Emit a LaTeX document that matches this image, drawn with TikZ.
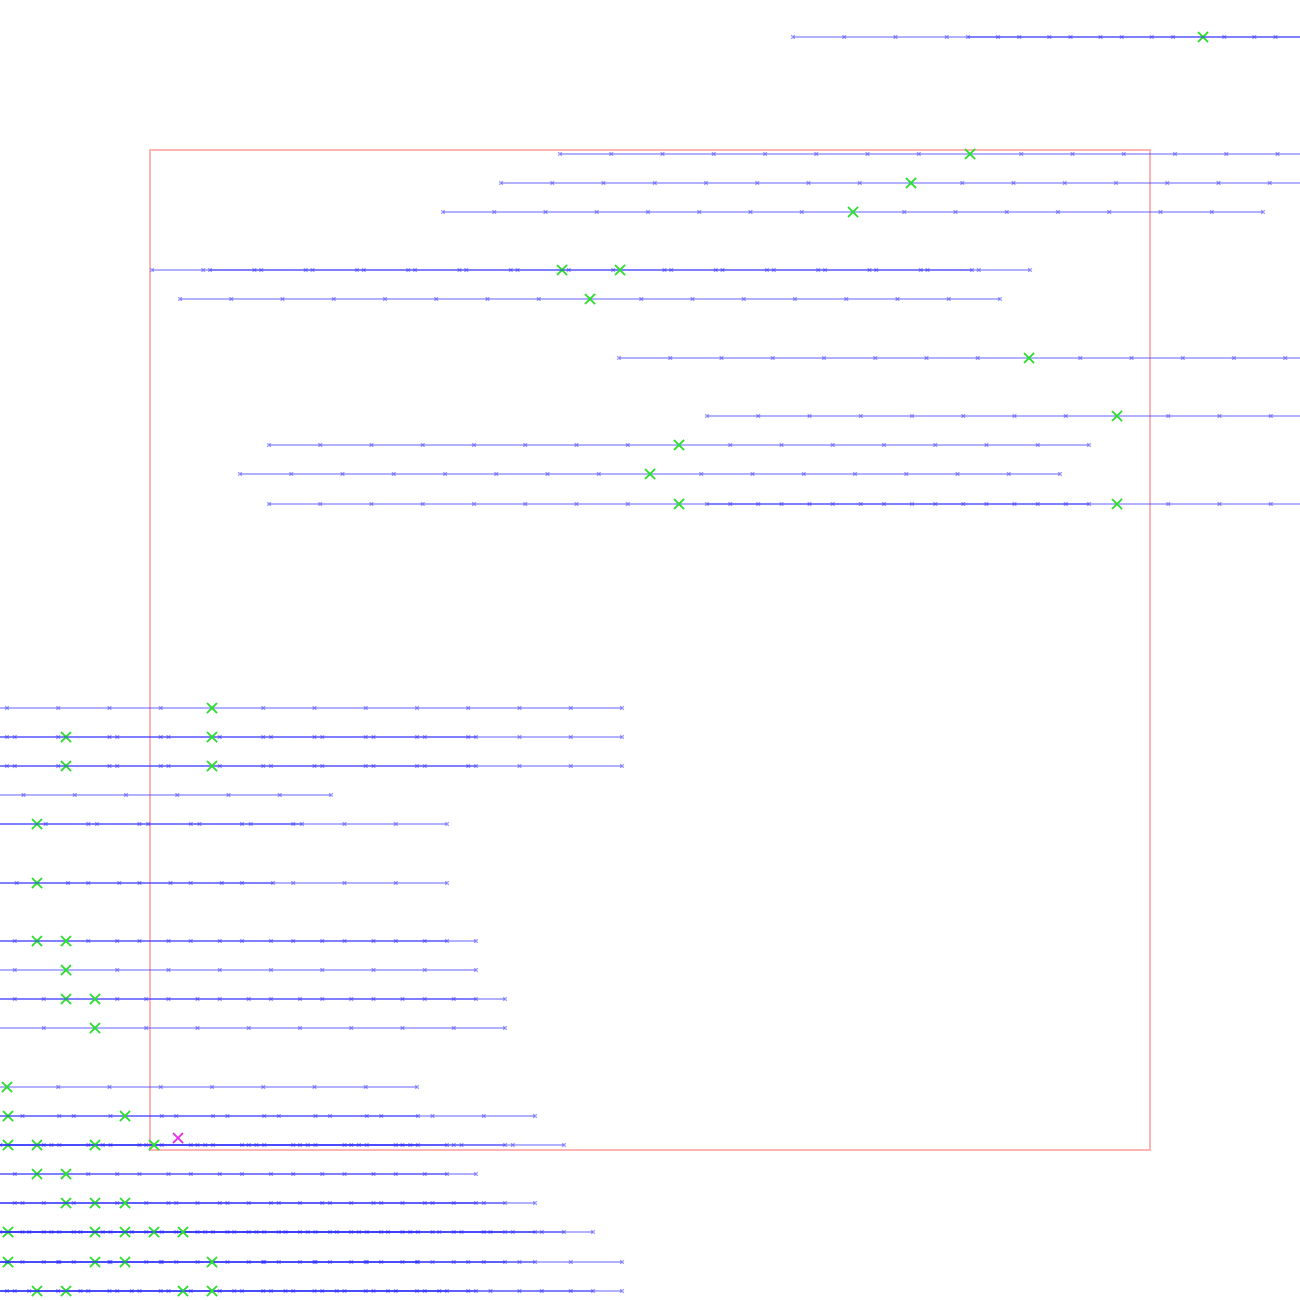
\documentclass[tikz,border=0pt]{standalone}
\definecolor{gxcol}{RGB}{40,225,40}
\definecolor{mxcol}{RGB}{235,40,235}
\definecolor{frcol}{RGB}{255,180,180}
\definecolor{lncol}{RGB}{40,40,255}
\tikzset{
  trkline/.style={draw=lncol, draw opacity=0.36, line width=0.42pt},
  tk/.style={draw=lncol, draw opacity=0.42, line width=0.35pt},
  gx/.style={draw=gxcol, line width=0.42pt},
  mx/.style={draw=mxcol, line width=0.42pt},
  frame/.style={draw=frcol, line width=0.45pt}
}
\newcommand\mytrk[2]{%
  \draw[trkline] (#2,#1) -- ++(820,0);
  \foreach \k in {0,...,16}{%
    \pgfmathsetmacro\xx{#2+51.25*\k}
    \draw[tk] (\xx-1.8,#1-1.8) -- ++(3.6,3.6) (\xx-1.8,#1+1.8) -- ++(3.6,-3.6);
  }
  \draw[gx] (#2+405,#1-5) -- ++(10,10) (#2+405,#1+5) -- ++(10,-10);
}
\begin{document}
\begin{tikzpicture}[x=0.01cm,y=-0.01cm]
\path[use as bounding box, fill=white] (0,0) rectangle (1300,1300);
\clip (0,0) rectangle (1300,1300);
\draw[frame] (150,150) rectangle (1150,1150);
\mytrk{37}{793} \mytrk{37}{968}
\mytrk{154}{560}
\mytrk{183}{501}
\mytrk{212}{443}
\mytrk{270}{152} \mytrk{270}{210}
\mytrk{299}{180}
\mytrk{358}{619}
\mytrk{416}{707}
\mytrk{445}{269}
\mytrk{474}{240}
\mytrk{504}{269} \mytrk{504}{707}
\mytrk{708}{-198}
\mytrk{737}{-344} \mytrk{737}{-198}
\mytrk{766}{-344} \mytrk{766}{-198}
\mytrk{795}{-489}
\mytrk{824}{-373} \mytrk{824}{-518}
\mytrk{883}{-373} \mytrk{883}{-547}
\mytrk{941}{-373} \mytrk{941}{-344}
\mytrk{970}{-344}
\mytrk{999}{-344} \mytrk{999}{-315}
\mytrk{1028}{-315}
\mytrk{1087}{-403}
\mytrk{1116}{-402} \mytrk{1116}{-285}
\mytrk{1145}{-402} \mytrk{1145}{-373} \mytrk{1145}{-315} \mytrk{1145}{-256}
\mytrk{1174}{-373} \mytrk{1174}{-344}
\mytrk{1203}{-344} \mytrk{1203}{-315} \mytrk{1203}{-285}
\mytrk{1232}{-402} \mytrk{1232}{-315} \mytrk{1232}{-285} \mytrk{1232}{-256} \mytrk{1232}{-227}
\mytrk{1262}{-402} \mytrk{1262}{-315} \mytrk{1262}{-285} \mytrk{1262}{-198}
\mytrk{1291}{-373} \mytrk{1291}{-344} \mytrk{1291}{-227} \mytrk{1291}{-198}
\draw[mx] (173,1133) -- ++(10,10) (173,1143) -- ++(10,-10);
\end{tikzpicture}
\end{document}
